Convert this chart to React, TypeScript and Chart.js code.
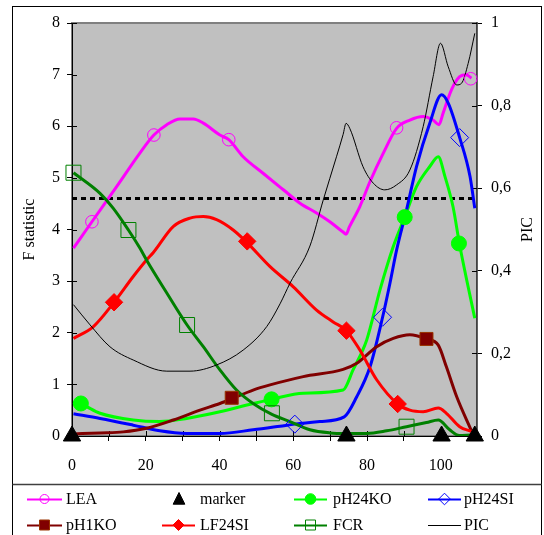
import React, { useEffect, useRef } from 'react';
import { Chart, registerables } from 'chart.js';

Chart.register(...registerables);

const SERIF = "'Liberation Serif', 'Times New Roman', serif";

// ---- data (position on x axis, F statistic / PIC values) ----
const leaX = [0.4, 5.4, 12.1, 18.4, 22.2, 25.7, 29.3, 32.9, 35.6, 40.1, 42.5, 46.4, 51.8, 57.3, 61.8, 66.3, 69.9, 73.5, 74.3, 75.2, 78.0, 80.8, 84.4, 88.0, 91.6, 95.2, 97.9, 99.5, 100.6, 102.9, 105.1, 106.9, 108.3];
const leaY = [3.64, 4.15, 4.83, 5.48, 5.83, 6.03, 6.14, 6.14, 6.06, 5.83, 5.74, 5.41, 5.09, 4.77, 4.51, 4.32, 4.15, 3.95, 3.91, 4.05, 4.44, 4.93, 5.48, 5.96, 6.12, 6.19, 6.12, 6.03, 6.25, 6.71, 6.96, 7.0, 6.93];
const leaMarkX = [5.4, 22.2, 42.5, 88.0, 108.1];
const leaMarkY = [4.15, 5.83, 5.74, 5.97, 6.92];

const markerX = [0, 74.4, 100.2, 109.2];
const markerY = [0, 0, 0, 0];

const pH24KOX = [0.4, 2.4, 7.6, 16.6, 23.8, 31.1, 40.1, 49.1, 54.1, 62.7, 73.5, 76.2, 79.9, 83.5, 87.1, 90.2, 93.4, 97.0, 99.3, 101.1, 103.3, 105.1, 109.2];
const pH24KOY = [0.65, 0.62, 0.44, 0.31, 0.28, 0.34, 0.47, 0.63, 0.71, 0.83, 0.89, 1.28, 1.86, 2.83, 3.67, 4.24, 4.83, 5.22, 5.41, 5.03, 4.44, 3.70, 2.28];
const pH24KOMarkX = [2.4, 54.1, 90.2, 104.9];
const pH24KOMarkY = [0.63, 0.71, 4.24, 3.73];

const pH24SIX = [0.4, 7.6, 16.6, 23.8, 31.1, 40.1, 49.1, 56.4, 60.4, 67.2, 73.8, 77.2, 80.8, 84.2, 86.2, 88.0, 90.7, 93.4, 97.0, 100.2, 102.0, 105.1, 107.9, 109.2];
const pH24SIY = [0.43, 0.34, 0.21, 0.10, 0.05, 0.05, 0.12, 0.19, 0.23, 0.28, 0.37, 0.76, 1.34, 2.30, 2.96, 3.6, 4.38, 5.22, 6.06, 6.61, 6.45, 5.78, 5.03, 4.41];
const pH24SIMarkX = [60.4, 84.2, 105.1];
const pH24SIMarkY = [0.23, 2.30, 5.78];

const pH1KOX = [0.4, 7.6, 13.9, 20.2, 27.5, 34.7, 40.1, 43.3, 49.1, 53.7, 62.7, 73.5, 77.2, 82.6, 87.1, 91.6, 96.1, 99.3, 101.5, 104.3, 108.3];
const pH1KOY = [0.04, 0.06, 0.08, 0.15, 0.31, 0.50, 0.63, 0.72, 0.89, 0.99, 1.15, 1.29, 1.41, 1.73, 1.89, 1.96, 1.88, 1.76, 1.34, 0.76, 0.10];
const pH1KOMarkX = [43.3, 96.1];
const pH1KOMarkY = [0.74, 1.88];

const lf24SIX = [0.4, 5.8, 11.4, 16.6, 20.2, 22.0, 27.5, 32.0, 35.6, 39.2, 43.7, 47.4, 53.7, 60.0, 66.3, 70.8, 74.4, 78.0, 82.6, 88.3, 91.6, 95.2, 99.3, 101.5, 105.1, 108.3];
const lf24SIY = [1.89, 2.12, 2.59, 3.09, 3.41, 3.55, 4.06, 4.22, 4.25, 4.19, 3.99, 3.75, 3.28, 2.89, 2.44, 2.21, 2.04, 1.67, 1.09, 0.62, 0.50, 0.47, 0.54, 0.44, 0.18, 0.09];
const lf24SIMarkX = [11.4, 47.5, 74.4, 88.3];
const lf24SIMarkY = [2.59, 3.77, 2.04, 0.62];

const fcrX = [0.4, 7.6, 11.2, 15.3, 18.4, 20.2, 25.7, 31.2, 35.6, 40.1, 44.6, 49.1, 54.2, 59.1, 64.5, 69.9, 74.4, 79.9, 85.3, 90.7, 96.1, 99.3, 102.4, 105.0, 108.0];
const fcrY = [5.10, 4.70, 4.41, 3.99, 3.64, 3.41, 2.77, 2.15, 1.73, 1.28, 0.89, 0.63, 0.42, 0.28, 0.12, 0.06, 0.05, 0.05, 0.10, 0.18, 0.26, 0.31, 0.12, 0.01, 0.02];
const fcrMarkX = [0.4, 15.3, 31.2, 54.2, 90.7];
const fcrMarkY = [5.10, 3.99, 2.15, 0.44, 0.18];

const picX = [0.4, 4.9, 10.3, 16.6, 25.7, 32.0, 39.2, 46.4, 52.8, 56.4, 59.1, 64.5, 68.1, 71.7, 73.5, 74.3, 75.3, 78.9, 81.7, 84.8, 88.0, 91.6, 95.2, 97.9, 99.9, 102.0, 104.3, 105.6, 107.4, 109.2];
const picY = [0.318, 0.269, 0.216, 0.184, 0.157, 0.157, 0.172, 0.208, 0.265, 0.32, 0.37, 0.46, 0.571, 0.676, 0.73, 0.757, 0.745, 0.652, 0.612, 0.596, 0.608, 0.644, 0.749, 0.870, 0.951, 0.894, 0.85, 0.854, 0.902, 0.975];

const thresholdF = 4.6;
const xRange = [0, 109.8];
const fTicks = [0, 8, 1];
const picTicks = [0, 1, 0.2];

const pts = (xs: number[], ys: number[]) => xs.map((x, i) => ({ x, y: ys[i] }));

const lineDs = (label: string, xs: number[], ys: number[], color: string, width: number, order: number, axis = 'y') => ({
  label,
  data: pts(xs, ys),
  borderColor: color,
  backgroundColor: color,
  borderWidth: width,
  pointRadius: 0,
  cubicInterpolationMode: 'monotone' as const,
  fill: false,
  yAxisID: axis,
  order,
});

const markDs = (label: string, xs: number[], ys: number[], style: string, radius: number, fillC: string, strokeC: string, order: number) => ({
  label,
  data: pts(xs, ys),
  showLine: false,
  pointStyle: style,
  pointRadius: radius,
  pointBackgroundColor: fillC,
  pointBorderColor: strokeC,
  pointBorderWidth: 1,
  borderColor: strokeC,
  backgroundColor: fillC,
  yAxisID: 'y',
  clip: false,
  order,
});

type LegendItem = { text: string; color: string | null; marker: string | null; fill: string; stroke: string; size: number };

const legendRows: LegendItem[][] = [
  [
    { text: 'LEA', color: '#FF00FF', marker: 'circle', fill: 'none', stroke: '#FF00FF', size: 4.5 },
    { text: 'marker', color: null, marker: 'triangle', fill: '#000', stroke: '#000', size: 6.5 },
    { text: 'pH24KO', color: '#00FF00', marker: 'circle', fill: '#00FF00', stroke: '#00FF00', size: 5.3 },
    { text: 'pH24SI', color: '#0000FF', marker: 'diamond', fill: 'none', stroke: '#0000FF', size: 5.8 },
  ],
  [
    { text: 'pH1KO', color: '#800000', marker: 'square', fill: '#800000', stroke: '#993300', size: 5 },
    { text: 'LF24SI', color: '#FF0000', marker: 'diamond', fill: '#FF0000', stroke: '#FF0000', size: 5.5 },
    { text: 'FCR', color: '#008000', marker: 'square', fill: 'none', stroke: '#008000', size: 5 },
    { text: 'PIC', color: '#000000', marker: null, fill: 'none', stroke: '#000', size: 0 },
  ],
];

function drawMarker(ctx: CanvasRenderingContext2D, m: string, x: number, y: number, s: number, fill: string, stroke: string) {
  ctx.beginPath();
  if (m === 'circle') ctx.arc(x, y, s, 0, Math.PI * 2);
  else if (m === 'square') ctx.rect(x - s, y - s, 2 * s, 2 * s);
  else if (m === 'diamond') {
    ctx.moveTo(x - s, y); ctx.lineTo(x, y - s); ctx.lineTo(x + s, y); ctx.lineTo(x, y + s); ctx.closePath();
  } else if (m === 'triangle') {
    ctx.moveTo(x, y - s); ctx.lineTo(x + s * 0.9, y + s * 0.8); ctx.lineTo(x - s * 0.9, y + s * 0.8); ctx.closePath();
  }
  if (fill !== 'none') { ctx.fillStyle = fill; ctx.fill(); }
  ctx.lineWidth = 1; ctx.strokeStyle = stroke; ctx.stroke();
}

const framePlugin = {
  id: 'framePlugin',
  beforeDraw(chart: any) {
    const { ctx, chartArea: a } = chart;
    ctx.save();
    ctx.fillStyle = '#C0C0C0';
    ctx.fillRect(a.left, a.top, a.right - a.left, a.bottom - a.top);
    ctx.strokeStyle = '#808080';
    ctx.lineWidth = 2;
    ctx.strokeRect(a.left, a.top, a.right - a.left, a.bottom - a.top);
    ctx.strokeStyle = '#000';
    ctx.lineWidth = 1;
    ctx.strokeRect(12.5, 6.5, 529, 600);
    ctx.strokeStyle = '#404040';
    ctx.lineWidth = 1.5;
    ctx.beginPath(); ctx.moveTo(12.5, 484.5); ctx.lineTo(541.5, 484.5); ctx.stroke();
    ctx.restore();
  },
  beforeDatasetsDraw(chart: any) {
    const { ctx, chartArea: a, scales } = chart;
    ctx.save();
    ctx.strokeStyle = '#000';
    ctx.lineWidth = 1;
    ctx.beginPath();
    scales.x.ticks.forEach((t: any) => {
      const p = Math.round(scales.x.getPixelForValue(t.value)) + 0.5;
      ctx.moveTo(p, a.bottom); ctx.lineTo(p, a.bottom - 5);
    });
    scales.y.ticks.forEach((t: any) => {
      const p = Math.round(scales.y.getPixelForValue(t.value)) + 0.5;
      ctx.moveTo(a.left, p); ctx.lineTo(a.left + 5, p);
    });
    scales.y1.ticks.forEach((t: any) => {
      const p = Math.round(scales.y1.getPixelForValue(t.value)) + 0.5;
      ctx.moveTo(a.right, p); ctx.lineTo(a.right - 5, p);
    });
    ctx.stroke();
    ctx.restore();
  },
  afterDraw(chart: any) {
    const { ctx, chartArea: a } = chart;
    ctx.save();
    // right axis title, reading bottom to top
    ctx.font = `16px ${SERIF}`;
    ctx.fillStyle = '#000';
    ctx.textAlign = 'center';
    ctx.textBaseline = 'middle';
    ctx.translate(528, (a.top + a.bottom) / 2);
    ctx.rotate(-Math.PI / 2);
    ctx.fillText('PIC', 0, 0);
    ctx.restore();

    // legend
    const colLine = [[27, 62], [162, 195], [294, 327], [428, 461]];
    const colText = [66, 200, 333, 464];
    const rowY = [499, 525];
    ctx.save();
    ctx.font = `16px ${SERIF}`;
    ctx.textBaseline = 'middle';
    ctx.textAlign = 'left';
    legendRows.forEach((row, r) => {
      row.forEach((it, c) => {
        const y = rowY[r];
        const [x1, x2] = colLine[c];
        if (it.color) {
          ctx.strokeStyle = it.color;
          ctx.lineWidth = it.text === 'PIC' ? 1 : 2;
          ctx.beginPath(); ctx.moveTo(x1, y + 0.5); ctx.lineTo(x2, y + 0.5); ctx.stroke();
        }
        if (it.marker) {
          const cx = it.marker === 'triangle' ? 179 : (x1 + x2) / 2;
          drawMarker(ctx, it.marker, cx, y, it.size, it.fill, it.stroke);
        }
        ctx.fillStyle = '#000';
        ctx.fillText(it.text, colText[c], y + 1);
      });
    });
    ctx.restore();
  },
};

export default function App() {
  const ref = useRef<HTMLCanvasElement | null>(null);

  useEffect(() => {
    if (!ref.current) return;
    const font = { family: SERIF, size: 16 };
    const fmtPic = (v: number) => {
      const r = Math.round(v * 10) / 10;
      if (r === 0) return '0';
      if (r === 1) return '1';
      return r.toFixed(1).replace('.', ',');
    };
    const chart = new Chart(ref.current, {
      type: 'line',
      data: {
        datasets: [
          {
            label: 'threshold',
            data: [{ x: xRange[0], y: thresholdF }, { x: xRange[1], y: thresholdF }],
            borderColor: '#000',
            borderWidth: 3,
            borderDash: [5, 4],
            pointRadius: 0,
            fill: false,
            yAxisID: 'y',
            order: 95,
          } as any,
          lineDs('LEA', leaX, leaY, '#FF00FF', 3, 80),
          lineDs('pH24KO', pH24KOX, pH24KOY, '#00FF00', 3, 70),
          lineDs('pH24SI', pH24SIX, pH24SIY, '#0000FF', 3, 60),
          lineDs('pH1KO', pH1KOX, pH1KOY, '#800000', 3, 50),
          lineDs('LF24SI', lf24SIX, lf24SIY, '#FF0000', 3, 40),
          lineDs('FCR', fcrX, fcrY, '#008000', 3, 30),
          lineDs('PIC', picX, picY, '#000000', 1, 20, 'y1'),
          markDs('LEA markers', leaMarkX, leaMarkY, 'circle', 6.3, 'rgba(0,0,0,0)', '#FF00FF', 9),
          markDs('pH24KO markers', pH24KOMarkX, pH24KOMarkY, 'circle', 7.5, '#00FF00', '#00FF00', 8),
          markDs('pH24SI markers', pH24SIMarkX, pH24SIMarkY, 'rectRot', 9, 'rgba(0,0,0,0)', '#0000FF', 7),
          markDs('pH1KO markers', pH1KOMarkX, pH1KOMarkY, 'rect', 9.2, '#800000', '#993300', 6),
          markDs('LF24SI markers', lf24SIMarkX, lf24SIMarkY, 'rectRot', 8.7, '#FF0000', '#FF0000', 5),
          markDs('FCR markers', fcrMarkX, fcrMarkY, 'rect', 10.6, 'rgba(0,0,0,0)', '#008000', 4),
          markDs('marker', markerX, markerY, 'triangle', 10, '#000000', '#000000', 0),
        ],
      },
      options: {
        animation: false,
        responsive: false,
        devicePixelRatio: 1,
        layout: { padding: { top: 23, left: 0, right: 0, bottom: 0 } },
        plugins: { legend: { display: false }, tooltip: { enabled: false } },
        events: [],
        scales: {
          x: {
            type: 'linear',
            min: xRange[0],
            max: xRange[1],
            ticks: {
              stepSize: 10,
              includeBounds: false,
              autoSkip: false,
              maxRotation: 0,
              padding: 15,
              font,
              color: '#000',
              callback: (v: any) => (Math.round(Number(v)) % 20 === 0 ? String(Math.round(Number(v))) : ''),
            },
            grid: { drawOnChartArea: false, drawTicks: true, tickLength: 5, color: '#000', lineWidth: 1 },
            border: { display: true, color: '#000', width: 1 },
            afterFit: (s: any) => { s.height = 99; },
          },
          y: {
            type: 'linear',
            position: 'left',
            min: fTicks[0],
            max: fTicks[1],
            ticks: { stepSize: fTicks[2], padding: 7, font, color: '#000' },
            grid: { drawOnChartArea: false, drawTicks: true, tickLength: 5, color: '#000', lineWidth: 1 },
            border: { display: true, color: '#000', width: 1 },
            title: { display: true, text: 'F statistic', font, color: '#000', padding: { top: 20, bottom: 0 } },
            afterFit: (s: any) => { s.width = 72; },
          },
          y1: {
            type: 'linear',
            position: 'right',
            min: picTicks[0],
            max: picTicks[1],
            ticks: { stepSize: picTicks[2], padding: 9, font, color: '#000', callback: (v: any) => fmtPic(Number(v)) },
            grid: { drawOnChartArea: false, drawTicks: true, tickLength: 5, color: '#000', lineWidth: 1 },
            border: { display: true, color: '#404040', width: 1.5 },
            afterFit: (s: any) => { s.width = 67; },
          },
        },
      } as any,
      plugins: [framePlugin],
    });
    return () => chart.destroy();
  }, []);

  return (
    <div style={{ position: 'absolute', left: 0, top: 0, width: 544, height: 535, background: '#fff' }}>
      <canvas ref={ref} width={544} height={535} style={{ display: 'block', width: 544, height: 535 }} />
    </div>
  );
}
